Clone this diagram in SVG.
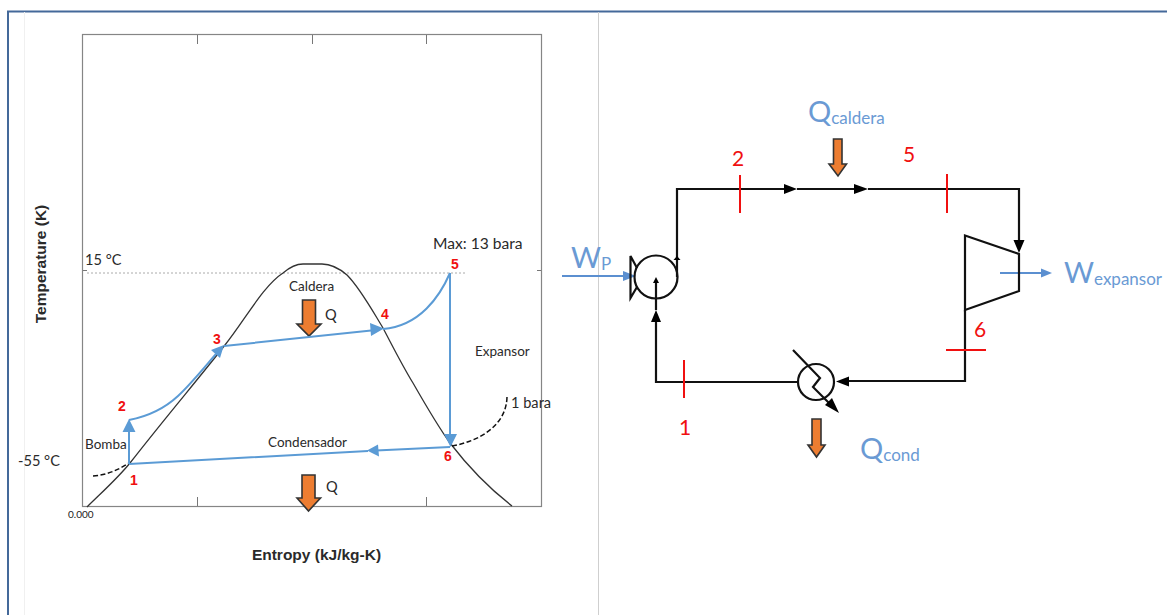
<svg xmlns="http://www.w3.org/2000/svg" width="1167" height="615" viewBox="0 0 1167 615">
<style>
text{font-family:Lato,"Open Sans",sans-serif}
.lb{font-size:14.600px;fill:#2a2a2a}
.ls{font-size:13.500px;fill:#2a2a2a}
.lm{font-size:15.600px;fill:#2a2a2a}
.ax{font-family:"Liberation Sans",Arial,sans-serif;font-size:15.500px;font-weight:bold;fill:#2a2a2a}
.rb{font-size:14px;font-weight:bold;fill:#f01010;font-family:"Liberation Sans",Arial,sans-serif;text-anchor:middle}
.rn{font-size:21px;fill:#f01010;text-anchor:middle}
.bl{fill:#6a9ad4;font-size:29px}
.bs{font-size:17px}
.cy{fill:none;stroke:#5b9bd5;stroke-width:2}
.k{fill:none;stroke:#111;stroke-width:2.200}
.t{fill:none;stroke:#f01010;stroke-width:2}
.or{fill:#ed7d31;stroke:#333;stroke-width:1.600}
.cf{fill:#5b9bd5}
.kf{fill:#000}
</style>
<rect width="1167" height="615" fill="#fff"/>
<g id="frame" fill="none">
<path d="M8 615V11.500H1167" stroke="#44699a" stroke-width="2"/>
<path d="M24.500 12V615" stroke="#f0f0f0"/>
<path d="M598.500 12V615" stroke="#cfcfcf"/>
</g>
<g id="chart">
<rect x="82.500" y="34.500" width="459" height="472" fill="#fff" stroke="#858585" stroke-width="1.200"/>
<path d="M197.500 35V44M312.500 35V44M426.500 35V44M197.500 497V506M426.500 497V506M83 270.500H87M537 270.500H541" fill="none" stroke="#777"/>
<path d="M87 273H465" stroke="#aaa" stroke-width="1" stroke-dasharray="2 2"/>
<path id="dome" d="M87 507C100 494 117 479 130 463C165 418 195 383 225 345C245 320 263 286 283 273C290 267 296 264 303 264L322 264C332 264 340 269 347 275C360 288 372 310 383 328C392 345 402 365 413 383C425 404 437 425 450 443C470 469 490 489 512 506" fill="none" stroke="#333" stroke-width="1.300"/>
<path d="M93 476C107 475 118 470 129 463M452 446C480 441 507 425 507 396" fill="none" stroke="#111" stroke-width="1.500" stroke-dasharray="5 2.500"/>
<path class="or" d="M302.500 300H315.500V324H321L309 336L297 324H302.500Z"/>
<path class="or" d="M302 475H315V498H320.500L308.500 511L297 498H302Z"/>
</g>
<g id="connectors">
<path class="cy" d="M129 464V428M129 420C150 416 165 408 178 396C190 385 203 369 216 354M224 346L376 330M383 329C420 326 440 296 450 273M450 273V438M450 447L376 450.500M368 451L129 464"/>
<path class="cf" d="M129 419L135.500 432H122.500ZM224 345L220 358L211 350ZM384 328.500L371 336L370 323ZM450.500 447L444 434H457ZM367 450.500L378 444.500L379 456.500Z"/>
<path class="k" d="M677 277V189H784M797 189H854M868 189H1019V241M965 310V381H849M798 382H656V320M656 310V283"/>
<path class="kf" d="M797 189L784 184V194ZM868 189L854 184V194ZM1019 253L1013.500 240H1024.500ZM836 381.500L849 376.500V386.500ZM656 310L651 322H661ZM656 277L653 283H659ZM677 256L673.500 260H680.500Z"/>
<path d="M562 276H628" fill="none" stroke="#5b8fd0" stroke-width="2.200"/>
<path d="M636 276L623 271V281Z" fill="#5b8fd0"/>
<path d="M1000 273H1044" fill="none" stroke="#5b8fd0" stroke-width="1.800"/>
<path d="M1052 273L1041 268.500V277.500Z" fill="#5b8fd0"/>
</g>
<g id="pump"><circle class="k" cx="656" cy="277" r="21.500"/><path class="k" d="M637 268L630.500 256V298L637 287"/></g>
<g id="expander"><path class="k" d="M1019 291V254L965 235.500V310Z"/></g>
<g id="condenser"><circle class="k" cx="816" cy="382" r="18"/><path class="k" d="M793 350L820 378L813 387L830 404"/><path class="kf" d="M839 413L825 405L832 398Z"/></g>
<g id="ticks"><path class="t" d="M740 175V213M947 174V213M946 350H986M684 360V398"/></g>
<g id="heat"><path class="or" d="M833.500 139H842V164H846.500L838 176L829 164H833.500Z"/><path class="or" d="M812 419H821V445H825L816.500 457L808 445H812Z"/></g>
<g id="labels">
<text class="ax" transform="translate(46,264) rotate(-90)" text-anchor="middle">Temperature (K)</text>
<text class="ax" x="316.500" y="560" text-anchor="middle">Entropy (kJ/kg-K)</text>
<text class="lb" x="85" y="265">15 °C</text>
<text class="lb" x="18" y="466">-55 °C</text>
<text x="68" y="518" style="font-size:10px;fill:#222">0.000</text>
<text class="lm" x="433" y="249">Max: 13 bara</text>
<text class="ls" x="289" y="291">Caldera</text>
<text class="lb" x="325" y="320">Q</text>
<text class="ls" x="475" y="356">Expansor</text>
<text class="lb" x="511" y="408">1 bara</text>
<text class="ls" x="268" y="447">Condensador</text>
<text class="ls" x="85" y="449">Bomba</text>
<text class="lb" x="326" y="492">Q</text>
<text class="rb" x="122" y="411">2</text><text class="rb" x="217" y="344">3</text>
<text class="rb" x="385" y="319">4</text><text class="rb" x="455" y="269">5</text>
<text class="rb" x="448" y="461">6</text><text class="rb" x="134" y="485">1</text>
<text class="rn" x="738" y="166">2</text><text class="rn" x="909" y="162">5</text>
<text class="rn" x="980" y="337">6</text><text class="rn" x="685" y="435">1</text>
<text class="bl" x="808" y="122">Q<tspan class="bs" dy="2">caldera</tspan></text>
<text class="bl" x="571" y="268">W<tspan class="bs" dy="2">P</tspan></text>
<text class="bl" x="1064" y="283">W<tspan class="bs" dy="2">expansor</tspan></text>
<text class="bl" x="860" y="459">Q<tspan class="bs" dy="2">cond</tspan></text>
</g>
</svg>
